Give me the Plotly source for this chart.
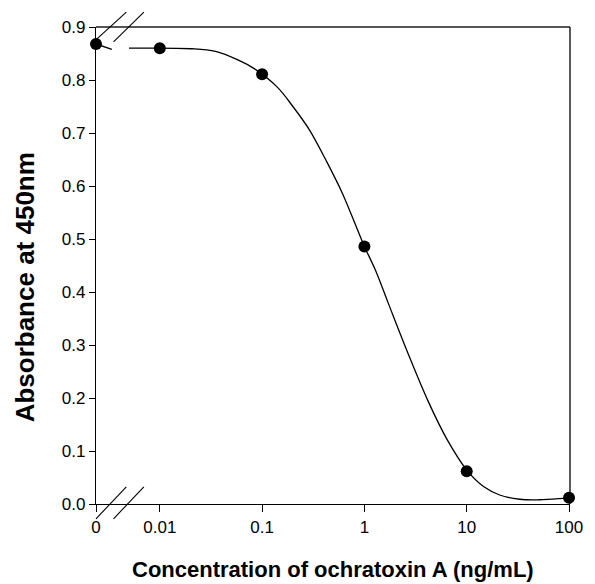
import plotly.graph_objects as go

# ---- data ----
conc_labels = ["0", "0.01", "0.1", "1", "10", "100"]
conc = [0, 0.01, 0.1, 1, 10, 100]
absorbance = [0.868, 0.860, 0.811, 0.486, 0.062, 0.012]

# axis position used for the "0" concentration (left of the axis break)
zero_pos = 0.00238

# fitted curve
fit_head_conc = [zero_pos, 0.0034]
fit_head_abs = [0.868, 0.858]
fit_conc = [0.005, 0.0204, 0.035, 0.058, 0.083, 0.14, 0.2, 0.29, 0.42, 0.61,
            1.0, 1.28, 1.71, 2.67, 4.15, 6.46, 10.2, 14.6, 21, 33, 51, 79, 100]
fit_abs = [0.860, 0.859, 0.854, 0.838, 0.822, 0.787, 0.750, 0.706, 0.649, 0.586,
           0.486, 0.4415, 0.379, 0.284, 0.196, 0.121, 0.062, 0.033, 0.017, 0.009,
           0.008, 0.010, 0.012]

y_ticks = [0.0, 0.1, 0.2, 0.3, 0.4, 0.5, 0.6, 0.7, 0.8, 0.9]

x_plot = [zero_pos if c == 0 else c for c in conc]
FONT = "Liberation Sans, Arial, sans-serif"

fig = go.Figure()
fig.add_trace(go.Scatter(x=fit_head_conc, y=fit_head_abs, mode="lines",
                         line=dict(color="black", width=1.3), hoverinfo="skip",
                         showlegend=False, cliponaxis=False))
fig.add_trace(go.Scatter(x=fit_conc, y=fit_abs, mode="lines",
                         line=dict(color="black", width=1.3, shape="spline", smoothing=1.0),
                         showlegend=False, cliponaxis=False))
fig.add_trace(go.Scatter(x=x_plot, y=absorbance, mode="markers",
                         marker=dict(color="black", size=12),
                         showlegend=False, cliponaxis=False))

shapes = []
# top spine (grey) and right spine (black)
shapes.append(dict(type="line", xref="paper", yref="paper", x0=0, x1=1, y0=1, y1=1,
                   line=dict(color="#555555", width=2)))
shapes.append(dict(type="line", xref="paper", yref="paper", x0=1, x1=1, y0=0, y1=1,
                   line=dict(color="black", width=1.3)))
# axis break marks
for (x0, y0, x1, y1) in [(0.002, 0.975, 0.064, 1.031), (0.037, 0.969, 0.101, 1.031),
                         (0.0, -0.031, 0.064, 0.036), (0.037, -0.031, 0.101, 0.036)]:
    shapes.append(dict(type="line", xref="paper", yref="paper", x0=x0, y0=y0, x1=x1, y1=y1,
                       line=dict(color="black", width=1.1)))

fig.update_layout(
    width=595, height=584,
    margin=dict(l=96, r=16, t=27, b=80),
    paper_bgcolor="white", plot_bgcolor="white",
    font=dict(family=FONT, color="black", size=17),
    shapes=shapes,
    annotations=[
        dict(text="Concentration of ochratoxin A (ng/mL)", xref="paper", yref="paper",
             x=0.5, y=-0.137, xanchor="center", yanchor="middle", showarrow=False,
             font=dict(family=FONT, size=22, weight="bold", color="black")),
        dict(text="Absorbance at 450nm", xref="paper", yref="paper",
             x=-0.149, y=0.455, xanchor="center", yanchor="middle", showarrow=False,
             textangle=-90,
             font=dict(family=FONT, size=26, weight="bold", color="black")),
    ],
)
fig.update_xaxes(type="log", range=[-2.6235, 2.0096],
                 tickvals=x_plot, ticktext=conc_labels,
                 ticks="outside", ticklen=7, tickcolor="black", tickwidth=1,
                 showline=True, linecolor="black", linewidth=1.3,
                 showgrid=False, zeroline=False, tickfont=dict(size=17))
fig.update_yaxes(range=[0, 0.9], tickvals=y_ticks, tickformat=".1f",
                 ticks="outside", ticklen=6, tickcolor="black", tickwidth=1,
                 showline=True, linecolor="black", linewidth=1.3,
                 showgrid=False, zeroline=False, tickfont=dict(size=17))

fig.write_html("out.html", config={"displayModeBar": False},
               post_script="document.body.style.margin='0';document.body.style.padding='0';")
